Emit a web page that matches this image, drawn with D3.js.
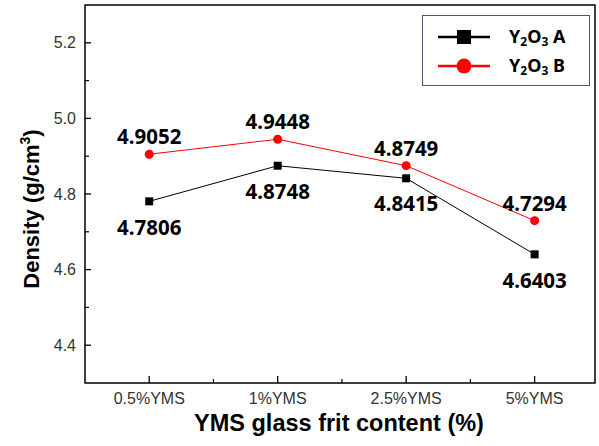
<!DOCTYPE html>
<html>
<head>
<meta charset="utf-8">
<script src="https://cdn.jsdelivr.net/npm/d3@7"></script>
<style>
  body { margin: 0; background: #fff; }
  svg text { font-family: "Liberation Sans", Arial, sans-serif; }
</style>
</head>
<body>
<svg id="chart" width="599" height="446"></svg>
<script>
// data
const categories = ["0.5%YMS", "1%YMS", "2.5%YMS", "5%YMS"];
const seriesA = [4.7806, 4.8748, 4.8415, 4.6403];
const seriesB = [4.9052, 4.9448, 4.8749, 4.7294];
const yTicks = [4.4, 4.6, 4.8, 5.0, 5.2];
const yMinor = [4.5, 4.7, 4.9, 5.1];

const W = 599, H = 446;
const mLeft = 85, mRight = 595, mTop = 5, mBottom = 383;

const svg = d3.select("#chart");

let x = d3.scaleLinear().domain([-0.5, 3.47]).range([mLeft, mRight]);
let y = d3.scaleLinear().domain([4.3, 5.3]).range([mBottom, mTop]);

// frame
svg.append("rect")
  .attr("x", mLeft).attr("y", mTop)
  .attr("width", mRight - mLeft).attr("height", mBottom - mTop)
  .attr("fill", "none").attr("stroke", "#000").attr("stroke-width", 1.5);

// y ticks (inside)
let yAxis = svg.append("g");
yTicks.forEach(t => {
  yAxis.append("line")
    .attr("x1", mLeft).attr("x2", mLeft + 6)
    .attr("y1", y(t)).attr("y2", y(t))
    .attr("stroke", "#000").attr("stroke-width", 1.3);
  yAxis.append("text")
    .attr("x", mLeft - 9).attr("y", y(t))
    .attr("dy", "0.35em")
    .attr("text-anchor", "end")
    .attr("font-size", 16)
    .attr("fill", "#333")
    .text(d3.format(".1f")(t));
});
yMinor.forEach(t => {
  yAxis.append("line")
    .attr("x1", mLeft).attr("x2", mLeft + 4)
    .attr("y1", y(t)).attr("y2", y(t))
    .attr("stroke", "#000").attr("stroke-width", 1.2);
});

// x ticks
let xAxis = svg.append("g");
categories.forEach((c, i) => {
  xAxis.append("line")
    .attr("x1", x(i)).attr("x2", x(i))
    .attr("y1", mBottom).attr("y2", mBottom - 7)
    .attr("stroke", "#000").attr("stroke-width", 1.3);
  xAxis.append("text")
    .attr("x", x(i)).attr("y", mBottom + 21)
    .attr("text-anchor", "middle")
    .attr("font-size", 16)
    .attr("fill", "#333")
    .text(c);
  if (i < categories.length - 1) {
    xAxis.append("line")
      .attr("x1", x(i + 0.5)).attr("x2", x(i + 0.5))
      .attr("y1", mBottom).attr("y2", mBottom - 4)
      .attr("stroke", "#000").attr("stroke-width", 1.2);
  }
});

// axis titles
svg.append("text")
  .attr("x", 339).attr("y", 431)
  .attr("text-anchor", "middle")
  .attr("font-size", 23.5).attr("font-weight", "bold")
  .text("YMS glass frit content (%)");

let yt = svg.append("text")
  .attr("transform", "translate(39," + 209 + ") rotate(-90)")
  .attr("text-anchor", "middle")
  .attr("font-size", 22).attr("font-weight", "bold");
yt.append("tspan").text("Density (g/cm");
yt.append("tspan").attr("font-size", 14).attr("dy", -9).text("3");
yt.append("tspan").attr("dy", 9).text(")");

// lines
let line = d3.line().x((d, i) => x(i)).y(d => y(d));

svg.append("path").datum(seriesA)
  .attr("d", line).attr("fill", "none")
  .attr("stroke", "#000").attr("stroke-width", 1);
svg.append("path").datum(seriesB)
  .attr("d", line).attr("fill", "none")
  .attr("stroke", "#ff0000").attr("stroke-width", 1);

svg.selectAll(".ptA").data(seriesA).enter().append("rect")
  .attr("x", (d, i) => x(i) - 4).attr("y", d => y(d) - 4)
  .attr("width", 8).attr("height", 8).attr("fill", "#000");
svg.selectAll(".ptB").data(seriesB).enter().append("circle")
  .attr("cx", (d, i) => x(i)).attr("cy", d => y(d))
  .attr("r", 4.5).attr("fill", "#ff0000");

// value labels
const lblFont = '"Noto Sans", "DejaVu Sans", sans-serif';
svg.selectAll(".lblA").data(seriesA).enter().append("text")
  .attr("x", (d, i) => x(i)).attr("y", d => y(d) + 26)
  .attr("dy", "0.35em")
  .attr("text-anchor", "middle")
  .style("font-family", lblFont)
  .attr("font-size", 20.5).attr("font-weight", "bold")
  .text(d => d3.format(".4f")(d));
svg.selectAll(".lblB").data(seriesB).enter().append("text")
  .attr("x", (d, i) => x(i)).attr("y", d => y(d) - 17)
  .attr("dy", "0.35em")
  .attr("text-anchor", "middle")
  .style("font-family", lblFont)
  .attr("font-size", 20.5).attr("font-weight", "bold")
  .text(d => d3.format(".4f")(d));

// legend
let lg = svg.append("g");
lg.append("rect")
  .attr("x", 422.5).attr("y", 15.5).attr("width", 167).attr("height", 70)
  .attr("fill", "#fff").attr("stroke", "#4d5870").attr("stroke-width", 1);

const legendItems = [
  { name: "A", color: "#000", shape: "square", cy: 37 },
  { name: "B", color: "#ff0000", shape: "circle", cy: 66 }
];
legendItems.forEach(it => {
  lg.append("line")
    .attr("x1", 438).attr("x2", 490)
    .attr("y1", it.cy).attr("y2", it.cy)
    .attr("stroke", it.color).attr("stroke-width", 2.5);
  if (it.shape === "square") {
    lg.append("rect").attr("x", 464 - 7).attr("y", it.cy - 7)
      .attr("width", 14).attr("height", 14).attr("fill", it.color);
  } else {
    lg.append("circle").attr("cx", 464).attr("cy", it.cy)
      .attr("r", 7.5).attr("fill", it.color);
  }
  let t = lg.append("text")
    .attr("x", 509).attr("y", it.cy + 6)
    .style("font-family", lblFont)
    .attr("font-size", 18).attr("font-weight", "bold");
  t.append("tspan").text("Y");
  t.append("tspan").attr("font-size", 12).attr("dy", 3).text("2");
  t.append("tspan").attr("dy", -3).text("O");
  t.append("tspan").attr("font-size", 12).attr("dy", 3).text("3");
  t.append("tspan").attr("dy", -3).text(" " + it.name);
});
</script>
</body>
</html>
